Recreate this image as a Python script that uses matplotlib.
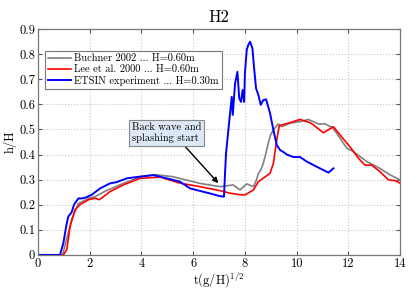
import matplotlib
matplotlib.use("Agg")
import matplotlib.pyplot as plt

plt.rcParams['font.family'] = ['cmr10', 'DejaVu Serif']
plt.rcParams['mathtext.fontset'] = 'cm'
plt.rcParams['axes.unicode_minus'] = False

blue_x = [0, 0.85, 0.98, 1.1, 1.17, 1.3, 1.39, 1.56, 1.7, 1.88, 2.08, 2.4, 2.78, 3.04, 3.43, 3.94, 4.46,
          4.98, 5.49, 5.88, 6.26, 6.65, 7.0, 7.19, 7.23, 7.27, 7.36, 7.49, 7.53, 7.58, 7.62, 7.71, 7.78,
          7.85, 7.91, 7.97, 8.0, 8.07, 8.13, 8.2, 8.29, 8.35, 8.43, 8.52, 8.61, 8.71, 8.82, 8.97, 9.1,
          9.23, 9.36, 9.49, 9.62, 9.87, 10.13, 10.39, 10.65, 10.9, 11.23, 11.42]
blue_y = [0, 0, 0.047, 0.12, 0.153, 0.17, 0.2, 0.225, 0.225, 0.23, 0.24, 0.265, 0.285, 0.29, 0.305, 0.312,
          0.318, 0.305, 0.292, 0.265, 0.255, 0.245, 0.235, 0.232, 0.325, 0.405, 0.498, 0.63, 0.558, 0.63,
          0.684, 0.73, 0.624, 0.61, 0.657, 0.61, 0.724, 0.817, 0.837, 0.85, 0.823, 0.75, 0.664, 0.637,
          0.598, 0.617, 0.62, 0.565, 0.498, 0.438, 0.418, 0.41, 0.40, 0.39, 0.39, 0.372, 0.358, 0.345,
          0.328, 0.345]

red_x = [0, 0.98, 1.11, 1.24, 1.43, 1.62, 1.95, 2.2, 2.37, 2.53, 2.78, 3.3, 3.94, 4.72, 5.49, 6.26, 7.04,
         7.42, 7.8, 8.0, 8.33, 8.52, 8.97, 9.1, 9.23, 9.33, 9.42, 9.68, 10.13, 10.52, 10.65, 11.03,
         11.42, 11.68, 12.06, 12.39, 12.64, 12.9, 13.22, 13.55, 13.8, 14]
red_y = [0, 0, 0.02, 0.113, 0.18, 0.2, 0.22, 0.226, 0.22, 0.232, 0.252, 0.279, 0.305, 0.31, 0.286, 0.272,
         0.256, 0.246, 0.24, 0.239, 0.259, 0.292, 0.325, 0.365, 0.458, 0.515, 0.518, 0.525, 0.54, 0.527,
         0.518, 0.487, 0.511, 0.478, 0.431, 0.385, 0.358, 0.358, 0.332, 0.299, 0.296, 0.286]

gray_x = [0, 0.95, 1.1, 1.3, 1.56, 1.95, 2.2, 2.62, 3.3, 3.94, 4.5, 5.2, 6.26, 7.04, 7.55, 7.81, 8.07,
          8.33, 8.45, 8.52, 8.6, 8.71, 8.8, 8.9, 9.0, 9.1, 9.29, 9.42, 9.74, 10.13, 10.45, 10.84, 11.1,
          11.36, 11.55, 11.94, 12.19, 12.32, 12.71, 13.22, 13.61, 14]
gray_y = [0, 0, 0.06, 0.14, 0.205, 0.225, 0.232, 0.255, 0.285, 0.31, 0.32, 0.312, 0.285, 0.272, 0.279,
          0.259, 0.283, 0.272, 0.3, 0.325, 0.335, 0.365, 0.4, 0.445, 0.48, 0.498, 0.522, 0.511, 0.525,
          0.531, 0.54, 0.522, 0.522, 0.509, 0.485, 0.425, 0.412, 0.402, 0.372, 0.345, 0.319, 0.299]

labels = ["Buchner 2002 ... H=0.60m", "Lee et al. 2000 ... H=0.60m", "ETSIN experiment ... H=0.30m"]
xticks = [0, 2, 4, 6, 8, 10, 12, 14]
yticks = [0, 0.1, 0.2, 0.3, 0.4, 0.5, 0.6, 0.7, 0.8, 0.9]
ytick_labels = ["0", "0.1", "0.2", "0.3", "0.4", "0.5", "0.6", "0.7", "0.8", "0.9"]

fig = plt.figure(figsize=(4.11, 2.94), dpi=100)
ax = fig.add_axes([0.0925, 0.133, 0.881, 0.768])

ax.plot(gray_x, gray_y, color='#808080', lw=1.2, label=labels[0])
ax.plot(red_x, red_y, color='#ff0000', lw=1.2, label=labels[1])
ax.plot(blue_x, blue_y, color='#0000ff', lw=1.4, label=labels[2])

ax.set_xlim(0, 14)
ax.set_ylim(0, 0.9)
ax.set_xticks(xticks)
ax.set_xticklabels([str(t) for t in xticks])
ax.set_yticks(yticks)
ax.set_yticklabels(ytick_labels)
ax.tick_params(direction='in', top=True, right=True, labelsize=9, length=3, color='#555555', pad=2)
ax.grid(True, linestyle=':', color='#c8c8c8', lw=0.8)
for s in ax.spines.values():
    s.set_color('#777777')
    s.set_linewidth(0.9)

ax.set_title('H2', fontsize=12, pad=5)
ax.set_xlabel(r't(g/H)$^{1/2}$', fontsize=9, labelpad=1)
ax.set_ylabel('h/H', fontsize=9, labelpad=2)

leg = ax.legend(loc='upper left', bbox_to_anchor=(0.02, 0.905), fontsize=7.5, frameon=True,
                fancybox=False, edgecolor='#555555', handlelength=2.2, handletextpad=0.3,
                borderpad=0.3, labelspacing=0.15, borderaxespad=0)
leg.get_frame().set_linewidth(0.8)

ax.annotate('Back wave and\nsplashing start', xy=(6.97, 0.286), xytext=(3.62, 0.487),
            fontsize=7.5, ha='left', va='center', linespacing=1.05,
            bbox=dict(boxstyle='square,pad=0.3', fc='#dce8f6', ec='#888888', lw=0.8),
            arrowprops=dict(arrowstyle='-|>', color='black', lw=1.0, mutation_scale=8,
                            shrinkA=0, shrinkB=0, relpos=(0.72, 0.0)))

fig.savefig('out.png', dpi=100)
